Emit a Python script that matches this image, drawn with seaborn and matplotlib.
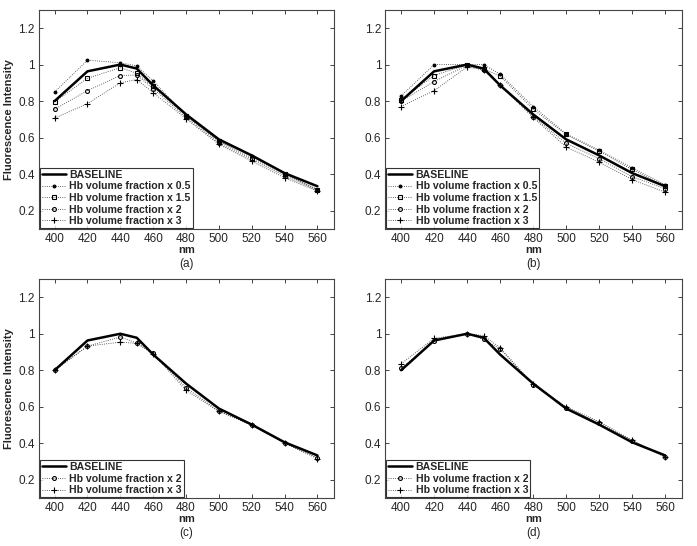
"""
Fluorescence intensity vs wavelength for varying Hb volume fraction (4 panels)
"""
import numpy as np
import pandas as pd
import matplotlib
matplotlib.use('Agg')
import matplotlib.pyplot as plt
import seaborn as sns

# wavelengths (nm)
wavelength = [400, 420, 440, 450, 460, 480, 500, 520, 540, 560]

baseline = [0.80, 0.963, 1.0, 0.978, 0.886, 0.727, 0.59, 0.502, 0.405, 0.333]

# panel (a)
a_x05 = [0.85, 1.024, 1.01, 0.993, 0.91, 0.72, 0.58, 0.50, 0.40, 0.315]
a_x15 = [0.795, 0.925, 0.983, 0.952, 0.88, 0.72, 0.58, 0.49, 0.40, 0.315]
a_x2 = [0.755, 0.857, 0.94, 0.943, 0.868, 0.71, 0.57, 0.48, 0.39, 0.31]
a_x3 = [0.707, 0.786, 0.90, 0.918, 0.846, 0.703, 0.563, 0.47, 0.38, 0.306]

# panel (b)
b_x05 = [0.828, 1.0, 1.0, 1.0, 0.947, 0.77, 0.62, 0.53, 0.435, 0.342]
b_x15 = [0.806, 0.94, 1.0, 0.975, 0.938, 0.755, 0.617, 0.526, 0.425, 0.333]
b_x2 = [0.80, 0.907, 0.996, 0.97, 0.89, 0.715, 0.568, 0.484, 0.385, 0.32]
b_x3 = [0.77, 0.857, 0.987, 0.97, 0.886, 0.71, 0.548, 0.465, 0.37, 0.30]

# panel (c)
c_x2 = [0.80, 0.932, 0.982, 0.949, 0.894, 0.704, 0.576, 0.50, 0.40, 0.32]
c_x3 = [0.80, 0.932, 0.954, 0.947, 0.89, 0.69, 0.574, 0.50, 0.40, 0.315]

# panel (d)
d_x2 = [0.81, 0.96, 1.0, 0.969, 0.917, 0.72, 0.595, 0.513, 0.413, 0.325]
d_x3 = [0.835, 0.975, 1.0, 0.99, 0.923, 0.724, 0.60, 0.518, 0.417, 0.323]

series_labels = {
    'x05': 'Hb volume fraction x 0.5',
    'x15': 'Hb volume fraction x 1.5',
    'x2': 'Hb volume fraction x 2',
    'x3': 'Hb volume fraction x 3',
}
markers = {'x05': '.', 'x15': 's', 'x2': 'o', 'x3': '+'}

panels = [
    ('(a)', {'x05': a_x05, 'x15': a_x15, 'x2': a_x2, 'x3': a_x3}),
    ('(b)', {'x05': b_x05, 'x15': b_x15, 'x2': b_x2, 'x3': b_x3}),
    ('(c)', {'x2': c_x2, 'x3': c_x3}),
    ('(d)', {'x2': d_x2, 'x3': d_x3}),
]

yticks = [0.2, 0.4, 0.6, 0.8, 1.0, 1.2]
ytick_labels = ['0.2', '0.4', '0.6', '0.8', '1', '1.2']
xticks = [400, 420, 440, 460, 480, 500, 520, 540, 560]

sns.set_style('ticks')
plt.rcParams['font.family'] = ['Liberation Sans', 'DejaVu Sans']

fig = plt.figure(figsize=(6.97, 5.46), dpi=100)
positions = [
    [0.056, 0.581, 0.423, 0.401],
    [0.553, 0.581, 0.425, 0.401],
    [0.056, 0.088, 0.423, 0.401],
    [0.553, 0.088, 0.425, 0.401],
]

for pos, (tag, series) in zip(positions, panels):
    ax = fig.add_axes(pos)
    sns.lineplot(x=wavelength, y=baseline, ax=ax, color='black', lw=1.8,
                 label='BASELINE', zorder=5)
    for key, vals in series.items():
        m = markers[key]
        sns.lineplot(x=wavelength, y=vals, ax=ax, color='#333333', lw=0.6,
                     linestyle=':', marker=m,
                     markersize=4 if m in ('.', '+') else 2.8,
                     markerfacecolor='black' if m == '.' else 'none',
                     markeredgecolor='black', markeredgewidth=0.8,
                     label=series_labels[key])
    ax.set_xlim(390.5, 570)
    ax.set_ylim(0.1, 1.3)
    ax.set_xticks(xticks)
    ax.set_yticks(yticks)
    ax.set_yticklabels(ytick_labels)
    ax.tick_params(direction='in', top=True, right=True, labelsize=8.5,
                   length=3, width=0.6, pad=3)
    for s in ax.spines.values():
        s.set_linewidth(0.8)
        s.set_color('#444444')
    ax.set_xlabel('nm', fontsize=8, fontweight='bold', labelpad=0)
    if tag in ('(a)', '(c)'):
        ax.set_ylabel('Fluorescence Intensity', fontsize=8, fontweight='bold', labelpad=3)
    else:
        ax.set_ylabel('')
    ax.text(0.5, -0.16, tag, transform=ax.transAxes, ha='center', va='center', fontsize=8.5)
    leg = ax.legend(loc='lower left', frameon=True, fancybox=False,
                    borderpad=0.2, labelspacing=0.15, handlelength=2.3,
                    handletextpad=0.3, borderaxespad=0.05,
                    prop={'weight': 'bold', 'size': 7.6})
    leg.get_frame().set_edgecolor('black')
    leg.get_frame().set_linewidth(0.8)

fig.savefig('out.png', dpi=100)
